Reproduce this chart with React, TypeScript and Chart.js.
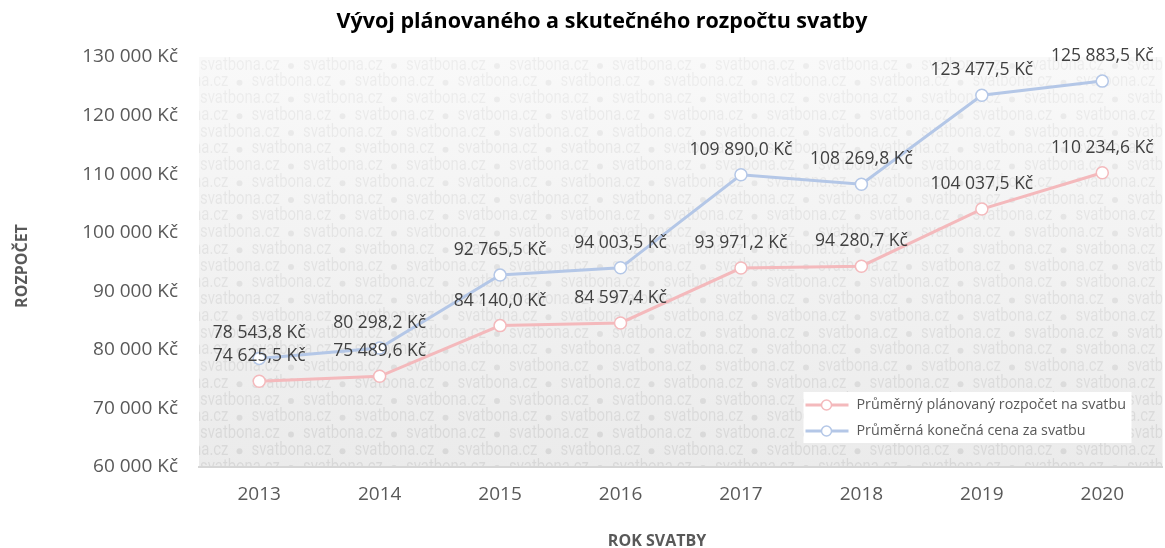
import React, { useEffect, useRef } from "react";
import { Chart, registerables } from "chart.js";

Chart.register(...registerables);

const years = ["2013", "2014", "2015", "2016", "2017", "2018", "2019", "2020"];
const plannedBudget = [74625.5, 75489.6, 84140.0, 84597.4, 93971.2, 94280.7, 104037.5, 110234.6];
const finalCost = [78543.8, 80298.2, 92765.5, 94003.5, 109890.0, 108269.8, 123477.5, 125883.5];
const seriesNames = ["Průměrný plánovaný rozpočet na svatbu", "Průměrná konečná cena za svatbu"];
const seriesColors = ["#f4b9bc", "#b4c7e7"];
const chartTitle = "Vývoj plánovaného a skutečného rozpočtu svatby";
const yAxisTitle = "ROZPOČET";
const xAxisTitle = "ROK SVATBY";
const yMin = 60000;
const yMax = 130000;
const yStep = 10000;
const watermarkText = "svatbona.cz";

const FONT = "'Open Sans', 'Noto Sans', sans-serif";

function fmtKc(v: number, decimals: number): string {
  const s = v.toFixed(decimals);
  const parts = s.split(".");
  const intS = parts[0].replace(/\B(?=(\d{3})+(?!\d))/g, " ");
  return intS + (parts[1] ? "," + parts[1] : "") + " Kč";
}

const backgroundPlugin = {
  id: "bgWatermark",
  beforeDraw(chart: any) {
    const { ctx, chartArea } = chart;
    const { left, top, right, bottom } = chartArea;
    ctx.save();
    const g = ctx.createLinearGradient(0, top, 0, bottom);
    g.addColorStop(0, "#f9f9f9");
    g.addColorStop(1, "#ebebeb");
    ctx.fillStyle = g;
    ctx.fillRect(left, top, right - left, bottom - top);
    ctx.beginPath();
    ctx.rect(left, top, right - left, bottom - top);
    ctx.clip();
    ctx.font = "18px Roboto, sans-serif";
    ctx.textBaseline = "middle";
    ctx.textAlign = "left";
    const natural = ctx.measureText(watermarkText).width;
    const sx = 80 / natural;
    const period = 103;
    const rowH = 16.75;
    for (let k = 0; top + 8 + k * rowH < bottom + 10; k++) {
      const y = top + 8 + k * rowH;
      const t = (y - top) / (bottom - top);
      const a = 0.045 + 0.035 * t;
      ctx.fillStyle = `rgba(0,0,0,${a.toFixed(3)})`;
      const x0 = left + 1 + (k % 2 === 1 ? period / 2 : 0) - period;
      for (let x = x0; x < right + period; x += period) {
        ctx.save();
        ctx.translate(x, y);
        ctx.scale(sx, 1);
        ctx.fillText(watermarkText, 0, 0);
        ctx.restore();
        ctx.beginPath();
        ctx.arc(x + 91, y + 1, 3, 0, Math.PI * 2);
        ctx.fill();
      }
    }
    ctx.restore();
  },
};

const labelsPlugin = {
  id: "valueLabels",
  afterDatasetsDraw(chart: any) {
    const { ctx } = chart;
    ctx.save();
    ctx.font = `17.5px ${FONT}`;
    ctx.fillStyle = "#404040";
    ctx.textAlign = "center";
    ctx.textBaseline = "middle";
    chart.data.datasets.forEach((ds: any, i: number) => {
      const meta = chart.getDatasetMeta(i);
      meta.data.forEach((pt: any, j: number) => {
        ctx.fillText(fmtKc(ds.data[j], 1), pt.x, pt.y - 25);
      });
    });
    ctx.restore();
  },
};

const decorPlugin = {
  id: "decor",
  afterDraw(chart: any) {
    const { ctx, chartArea } = chart;
    ctx.save();
    // title
    ctx.fillStyle = "#000000";
    ctx.font = `bold 21.5px ${FONT}`;
    ctx.textAlign = "center";
    ctx.textBaseline = "middle";
    ctx.fillText(chartTitle, 602, 22);
    // axis titles
    ctx.fillStyle = "#595959";
    ctx.font = `bold 16px ${FONT}`;
    ctx.fillText(xAxisTitle, 657, 541);
    ctx.save();
    ctx.translate(22, 266);
    ctx.rotate(-Math.PI / 2);
    ctx.fillText(yAxisTitle, 0, 0);
    ctx.restore();
    // legend
    const bx = chartArea.right - 359;
    const by = chartArea.bottom - 75;
    const bw = 328;
    const bh = 51;
    ctx.fillStyle = "#ffffff";
    ctx.fillRect(bx, by, bw, bh);
    chart.data.datasets.forEach((ds: any, i: number) => {
      const y = by + 13 + i * 26;
      ctx.strokeStyle = ds.borderColor;
      ctx.lineWidth = 3;
      ctx.beginPath();
      ctx.moveTo(bx + 2, y);
      ctx.lineTo(bx + 45, y);
      ctx.stroke();
      ctx.beginPath();
      ctx.arc(bx + 23, y, 5, 0, Math.PI * 2);
      ctx.fillStyle = "#ffffff";
      ctx.fill();
      ctx.lineWidth = 1.5;
      ctx.stroke();
      ctx.fillStyle = "#595959";
      ctx.font = `14.3px ${FONT}`;
      ctx.textAlign = "left";
      ctx.textBaseline = "middle";
      ctx.fillText(ds.label, bx + 53, y);
    });
    ctx.restore();
  },
};

export default function App() {
  const canvasRef = useRef<HTMLCanvasElement | null>(null);

  useEffect(() => {
    if (!canvasRef.current) return;
    const chart = new Chart(canvasRef.current, {
      type: "line",
      data: {
        labels: years,
        datasets: [
          {
            label: seriesNames[0],
            data: plannedBudget,
            borderColor: seriesColors[0],
            backgroundColor: "#ffffff",
            borderWidth: 3,
            pointRadius: 6,
            pointBorderWidth: 1.5,
            pointBackgroundColor: "#ffffff",
            pointBorderColor: seriesColors[0],
            tension: 0,
          },
          {
            label: seriesNames[1],
            data: finalCost,
            borderColor: seriesColors[1],
            backgroundColor: "#ffffff",
            borderWidth: 3,
            pointRadius: 6,
            pointBorderWidth: 1.5,
            pointBackgroundColor: "#ffffff",
            pointBorderColor: seriesColors[1],
            tension: 0,
          },
        ],
      },
      options: {
        responsive: false,
        animation: false,
        layout: { padding: { top: 57, left: 0, right: 0, bottom: 0 } },
        plugins: {
          legend: { display: false },
          title: { display: false },
          tooltip: { enabled: false },
        },
        scales: {
          x: {
            offset: true,
            grid: { display: false, drawTicks: false },
            border: { display: true, color: "#d6d6d6", width: 2 },
            ticks: {
              color: "#595959",
              font: { family: FONT, size: 19 },
              padding: 16,
            },
            afterFit(scale: any) {
              scale.height = 81;
            },
          },
          y: {
            min: yMin,
            max: yMax,
            grid: { display: false, drawTicks: false },
            border: { display: false },
            ticks: {
              stepSize: yStep,
              color: "#595959",
              font: { family: FONT, size: 19 },
              padding: 21,
              callback: (v: any) => fmtKc(Number(v), 0),
            },
            afterFit(scale: any) {
              scale.width = 199;
            },
          },
        },
      },
      plugins: [backgroundPlugin, labelsPlugin, decorPlugin],
    });
    return () => chart.destroy();
  }, []);

  return (
    <div
      style={{
        position: "fixed",
        left: 0,
        top: 0,
        width: 1165,
        height: 548,
        overflow: "hidden",
        background: "#ffffff",
      }}
    >
      <canvas ref={canvasRef} width={1170} height={548} style={{ display: "block", width: 1170, height: 548 }} />
    </div>
  );
}
